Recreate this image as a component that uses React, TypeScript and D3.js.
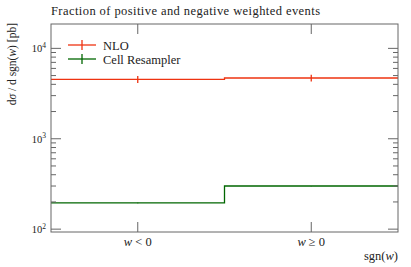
import React from "react";
import * as d3 from "d3";

const binEdges = [-1, 0, 1];
const binLabels = ["w < 0", "w ≥ 0"];
const nloValues = [4550, 4700];
const nloErrLo = [4150, 4300];
const nloErrHi = [4950, 5100];
const cellValues = [195, 300];
const cellErrLo = [194, 299];
const cellErrHi = [196, 301];
const yDomain = [93, 18600];
const yMajor = [100, 1000, 10000];
const yMajorExp = ["2", "3", "4"];

const W = 411, H = 267;
const M = { left: 51, right: 398, top: 24, bottom: 232 };
const FONT = "'Liberation Serif', 'DejaVu Serif', serif";
const RED = "#ee3311";
const GREEN = "#006600";
const AXIS = "#666";

export default function App() {
  const x = d3.scaleLinear().domain([binEdges[0], binEdges[binEdges.length - 1]]).range([M.left, M.right]);
  const y = d3.scaleLog().domain(yDomain).range([M.bottom, M.top]);

  const minor: number[] = [];
  for (let e = 1; e <= 4; e++) {
    for (let k = 2; k <= 9; k++) {
      const v = k * Math.pow(10, e);
      if (v > yDomain[0] && v < yDomain[1]) minor.push(v);
    }
  }

  const stepPath = (vals: number[]) => {
    let d = "";
    vals.forEach((v, i) => {
      const x0 = x(binEdges[i]), x1 = x(binEdges[i + 1]), yy = y(v);
      d += (i === 0 ? `M${x0},${yy}` : `L${x0},${yy}`) + `L${x1},${yy}`;
    });
    return d;
  };

  const centers = binEdges.slice(0, -1).map((e, i) => (e + binEdges[i + 1]) / 2);

  const series = [
    { name: "NLO", vals: nloValues, lo: nloErrLo, hi: nloErrHi, color: RED },
    { name: "Cell Resampler", vals: cellValues, lo: cellErrLo, hi: cellErrHi, color: GREEN },
  ];

  return (
    <svg width={W} height={H} style={{ position: "absolute", left: 0, top: 0 }} fontFamily={FONT}>
      <rect x={0} y={0} width={W} height={H} fill="white" />
      <text x={M.left} y={15} fontSize={12.5} textLength={269} lengthAdjust="spacing" fill="#222">Fraction of positive and negative weighted events</text>

      {/* series */}
      {series.map((s) => (
        <g key={s.name}>
          <path d={stepPath(s.vals)} fill="none" stroke={s.color} strokeWidth={1.3} />
          {centers.map((c, i) => (
            <line key={i} x1={x(c)} x2={x(c)} y1={y(s.lo[i])} y2={y(s.hi[i])} stroke={s.color} strokeWidth={1.3} />
          ))}
        </g>
      ))}

      {/* frame */}
      <rect x={M.left} y={M.top} width={M.right - M.left} height={M.bottom - M.top} fill="none" stroke={AXIS} strokeWidth={1} />

      {/* y ticks */}
      {yMajor.map((v, i) => (
        <g key={v}>
          <line x1={M.left} x2={M.left + 10} y1={y(v)} y2={y(v)} stroke={AXIS} />
          <line x1={M.right} x2={M.right - 10} y1={y(v)} y2={y(v)} stroke={AXIS} />
          <text x={M.left - 5} y={y(v) + 4} fontSize={10.5} textAnchor="end" fill="#222">
            10<tspan fontSize={7.5} dy={-4.5}>{yMajorExp[i]}</tspan>
          </text>
        </g>
      ))}
      {minor.map((v) => (
        <g key={v}>
          <line x1={M.left} x2={M.left + 5} y1={y(v)} y2={y(v)} stroke={AXIS} />
          <line x1={M.right} x2={M.right - 5} y1={y(v)} y2={y(v)} stroke={AXIS} />
        </g>
      ))}

      {/* x ticks */}
      {centers.map((c, i) => (
        <g key={c}>
          <line x1={x(c)} x2={x(c)} y1={M.bottom} y2={M.bottom - 10} stroke={AXIS} />
          <line x1={x(c)} x2={x(c)} y1={M.top} y2={M.top + 10} stroke={AXIS} />
          <text x={x(c)} y={246} fontSize={12.5} textAnchor="middle" fill="#222">
            <tspan fontStyle="italic">w</tspan>
            {binLabels[i].slice(1)}
          </text>
        </g>
      ))}

      {/* axis labels */}
      <text x={M.right} y={260} fontSize={12.5} textAnchor="end" fill="#222">
        sgn(<tspan fontStyle="italic">w</tspan>)
      </text>
      <text transform={`translate(16,23) rotate(-90)`} fontSize={11.5} textAnchor="end" fill="#222">
        d<tspan fontStyle="italic">σ</tspan> / d sgn(<tspan fontStyle="italic">w</tspan>) [pb]
      </text>

      {/* legend */}
      {series.map((s, i) => (
        <g key={s.name} transform={`translate(0,${45 + i * 14})`}>
          <line x1={68} x2={96} y1={0} y2={0} stroke={s.color} strokeWidth={1.3} />
          <line x1={82} x2={82} y1={-5} y2={5} stroke={s.color} strokeWidth={1.3} />
          <text x={103} y={4.5} fontSize={12.5} fill="#222">{s.name}</text>
        </g>
      ))}
    </svg>
  );
}
